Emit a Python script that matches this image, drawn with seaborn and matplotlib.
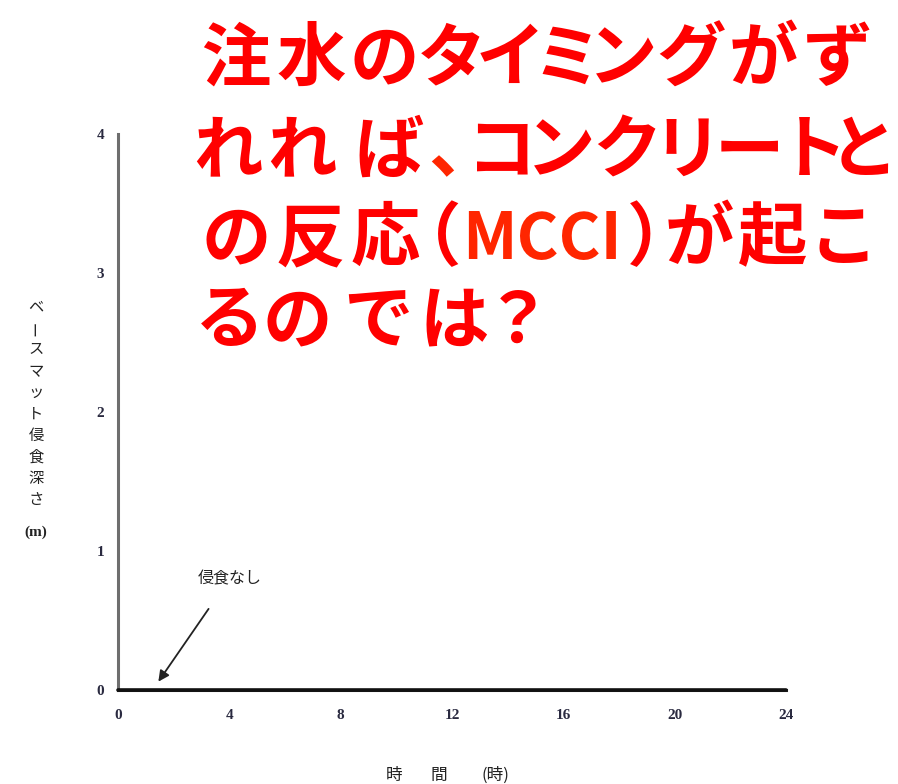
import matplotlib
matplotlib.use("Agg")
import matplotlib.pyplot as plt
import seaborn as sns
import pandas as pd

# Basemat erosion depth vs. time (no erosion over the whole period)
time_h = [0, 4, 8, 12, 16, 20, 24]
depth_m = [0, 0, 0, 0, 0, 0, 0]
x_ticks = [0, 4, 8, 12, 16, 20, 24]
y_ticks = [0, 1, 2, 3, 4]

ylabel_chars = ["ベ", "ー", "ス", "マ", "ッ", "ト", "侵", "食", "深", "さ"]
ylabel_unit = "(m)"
xlabel_parts = ["時", "間", "(時)"]
note_text = "侵食なし"
headline = [
    ["注", "水", "の", "タ", "イ", "ミ", "ン", "グ", "が", "ず"],
    ["れ", "れ", "ば", "、", "コ", "ン", "ク", "リ", "ー", "ト", "と"],
    ["の", "反", "応", "（", "MCCI", "）", "が", "起", "こ"],
    ["る", "の", "で", "は", "？"],
]

# Layout of the headline glyphs (pixel centres of each em box in the figure)
head_x = [
    [236, 311, 384, 452, 510, 567, 623, 691, 763, 838],
    [228, 302, 389, 463, 502, 561, 627, 687, 749, 813, 863],
    [236, 310, 385, 427, 542, 662, 699, 773, 843],
    [230, 297, 378, 454, 518],
]
head_y = [60, 152, 240, 322]

sns.set_theme(style="white")
plt.rcParams["font.family"] = ["Noto Sans CJK JP", "DejaVu Sans"]

W, H = 898, 784
fig = plt.figure(figsize=(W / 100, H / 100), dpi=100)
ax = fig.add_axes([118 / W, 1 - 690 / H, (786 - 118) / W, (690 - 134) / H])

df = pd.DataFrame({"time": time_h, "depth": depth_m})
sns.lineplot(data=df, x="time", y="depth", ax=ax, color="#111111", lw=2.6,
             clip_on=False, zorder=5)

ax.set_xlim(0, 24)
ax.set_ylim(0, 4)
ax.set_xticks(x_ticks)
ax.set_yticks(y_ticks)
ax.set_xlabel("")
ax.set_ylabel("")

for side in ["top", "right"]:
    ax.spines[side].set_visible(False)
ax.spines["left"].set_color("#6e6e6e")
ax.spines["left"].set_linewidth(2.2)
ax.spines["bottom"].set_color("#222222")
ax.spines["bottom"].set_linewidth(2.2)

ax.tick_params(axis="both", direction="in", length=7, width=1.4, color="#333333",
               labelcolor="#2a2a40")
ax.tick_params(axis="x", pad=14)
ax.tick_params(axis="y", pad=10)
for lab in ax.get_xticklabels() + ax.get_yticklabels():
    lab.set_fontfamily("Liberation Serif")
    lab.set_fontsize(11)
    lab.set_fontweight("bold")

# Vertical (top-to-bottom) y-axis caption
y0, dy = 307, 21.4
for i, ch in enumerate(ylabel_chars):
    rot = 90 if ch == "ー" else 0
    fig.text(36 / W, 1 - (y0 + i * dy) / H, ch, ha="center", va="center",
             fontsize=11, color="#222222", rotation=rot)
fig.text(36 / W, 1 - 532 / H, ylabel_unit, ha="center", va="center",
         fontsize=11, color="#222222", fontfamily="Liberation Serif", fontweight="bold")

for txt, xx in zip(xlabel_parts, [394, 439, 495]):
    fig.text(xx / W, 1 - 780 / H, txt, ha="center", va="baseline",
             fontsize=12, color="#222222")

ax.annotate(note_text, xy=(1.45, 0.06), xytext=(4.0, 0.8),
            ha="center", va="center", fontsize=11.5, color="#222222",
            arrowprops=dict(arrowstyle="-|>", color="#222222", lw=1.3,
                            shrinkA=16, shrinkB=0, mutation_scale=16))

for chars, xs, yy in zip(headline, head_x, head_y):
    for ch, xx in zip(chars, xs):
        latin = ch.isascii()
        color = "#ff2600" if (latin or ch == "、") else "#ff0000"
        fig.text(xx / W, 1 - yy / H, ch, ha="center", va="center",
                 fontsize=46 if latin else 50, fontweight="bold", color=color)

fig.savefig("out.png", dpi=100)
